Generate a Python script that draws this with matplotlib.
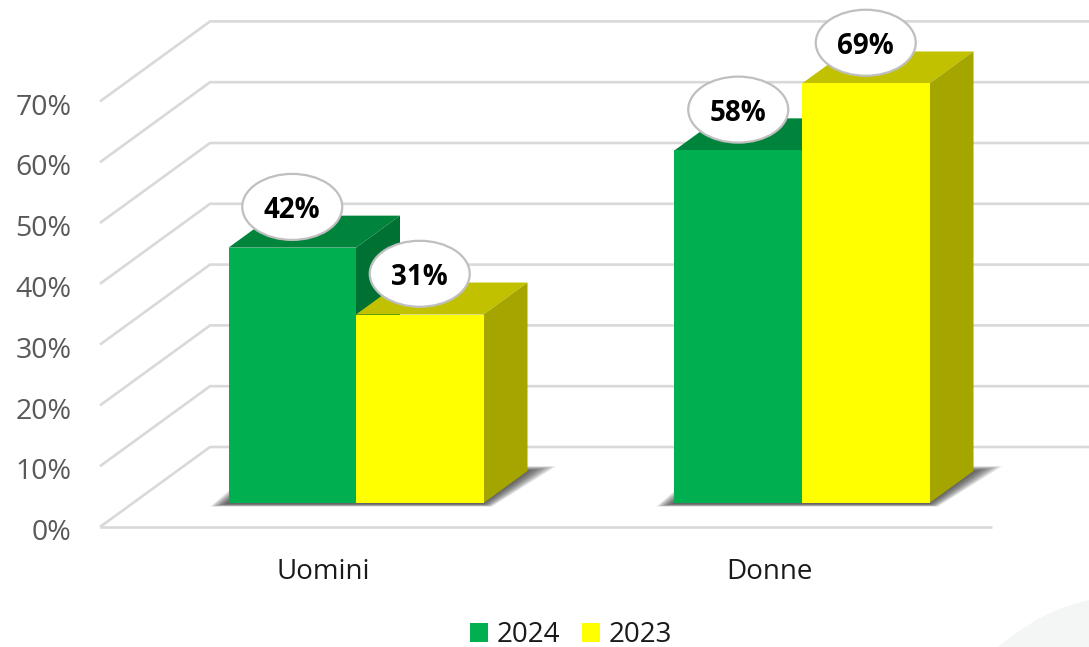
import matplotlib
matplotlib.use('Agg')
import matplotlib.pyplot as plt
from matplotlib.patches import Polygon, Ellipse, Patch, PathPatch
from matplotlib.path import Path
from matplotlib.transforms import ScaledTranslation

plt.rcParams['font.family'] = ['Open Sans', 'DejaVu Sans']

categories = ['Uomini', 'Donne']
series_names = ['2024', '2023']
values_2024 = [42, 58]
values_2023 = [31, 69]
yticks = [0, 10, 20, 30, 40, 50, 60, 70]

front_colors = ['#00B050', '#FFFF00']
top_colors = ['#00843C', '#C1C100']
side_colors = ['#007033', '#A5A500']

W, H = 1089, 647
PX_PER_PCT = 6.08
fig = plt.figure(figsize=(W / 100, H / 100), dpi=100, facecolor='white')
ax = fig.add_axes([100 / W, (H - 527) / H, 892 / W, 507 / H])
ax.set_xlim(0, 2)
ax.set_ylim(0, 507 / PX_PER_PCT)
for s in ax.spines.values():
    s.set_visible(False)
ax.patch.set_visible(False)

# oblique projection of the floor depth, 0 = front edge, 1 = back wall
DX = 110 / 446
DY = 80 / PX_PER_PCT


def proj(x, v, d):
    return (x + DX * d, v + DY * d)


# faint swoosh in the corner of the slide
swoosh = Path([(998 / W, 0), (1040 / W, 36 / H), (1089 / W, 47 / H), (1, 0), (998 / W, 0)],
              [Path.MOVETO, Path.CURVE3, Path.CURVE3, Path.LINETO, Path.CLOSEPOLY])
fig.add_artist(PathPatch(swoosh, transform=fig.transFigure, fc='#F4F6F5', ec='none'))

# walls
grid = dict(color='#D9D9D9', lw=1.9, clip_on=False, zorder=1, solid_capstyle='butt')
for v in yticks:
    p0 = proj(0, v, 0)
    p1 = proj(0, v, 1)
    p2 = proj(2, v, 1)
    ax.plot([p0[0], p1[0], p2[0]], [p0[1], p1[1], p2[1]], **grid)
ax.plot([0, 2], [0, 0], **grid)

bar_w = 127.5 / 446
front_d = 0.3
back_d = 0.7


def draw_shadow(center):
    # stacked translucent layers stand in for the blur
    n = 14
    for i in range(n):
        t = 1 - i / n
        m = 0.05 * t
        xl = center - bar_w - m
        xr = center + bar_w + m
        d0 = front_d - 0.01 - 0.035 * t
        d1 = back_d + 0.06 * t
        pts = [proj(xl + 0.02 * t, 0, d0), proj(xr - 0.02 * t, 0, d0),
               proj(xr, 0, d1), proj(xl, 0, d1)]
        ax.add_patch(Polygon(pts, closed=True, fc='#303030', ec='none', alpha=0.085,
                             clip_on=False, zorder=2))


def draw_bar(x0, x1, v, i):
    a = proj(x0, v, front_d)
    b = proj(x1, v, front_d)
    c = proj(x1, v, back_d)
    d = proj(x0, v, back_d)
    e = proj(x1, 0, front_d)
    f = proj(x1, 0, back_d)
    g = proj(x0, 0, front_d)
    ax.add_patch(Polygon([a, b, c, d], fc=top_colors[i], ec='none', clip_on=False, zorder=3 + i))
    ax.add_patch(Polygon([b, e, f, c], fc=side_colors[i], ec='none', clip_on=False, zorder=3 + i))
    ax.add_patch(Polygon([g, e, b, a], fc=front_colors[i], ec='none', clip_on=False, zorder=5))


for k, name in enumerate(categories):
    center = k + 0.5
    draw_shadow(center)
    draw_bar(center - bar_w, center, values_2024[k], 0)
    draw_bar(center, center + bar_w, values_2023[k], 1)

    # bubble labels
    for i, v in enumerate([values_2024[k], values_2023[k]]):
        xc = center + (i - 0.5) * bar_w
        px, py = proj(xc, v, front_d)
        py += 6.7
        ax.add_patch(Ellipse((px, py), 100 / 446, 66 / PX_PER_PCT, fc='white', ec='#BFBFBF', lw=1.6,
                             clip_on=False, zorder=6))
        ax.text(px, py - 0.6, f'{v}%', ha='center', va='center', fontsize=20, fontweight='bold',
                color='black', zorder=7)

ax.set_yticks(yticks)
ax.set_yticklabels([f'{v}%' for v in yticks], fontsize=20.5, color='#595959')
ax.set_xticks([0.5, 1.5])
ax.set_xticklabels(categories, fontsize=20, color='#1A1A1A')
ax.tick_params(axis='y', length=0, pad=20.5)
ax.tick_params(axis='x', length=0, pad=22.5)

# tick labels sit a little below their lines in the original
nudge = ScaledTranslation(0, -2 / 72, fig.dpi_scale_trans)
for lab in ax.get_yticklabels():
    lab.set_transform(lab.get_transform() + nudge)

handles = [Patch(fc=front_colors[0], ec='none'), Patch(fc=front_colors[1], ec='none')]
fs = 20
ax.legend(handles, series_names, loc='center', frameon=False, ncol=2, fontsize=fs,
          bbox_to_anchor=((571 - 100) / 892, -(635 - 527) / 507), handlelength=0.65,
          handleheight=0.65, handletextpad=0.3, columnspacing=0.8, borderpad=0,
          labelcolor='#1A1A1A')

fig.savefig('out.png', dpi=100)
